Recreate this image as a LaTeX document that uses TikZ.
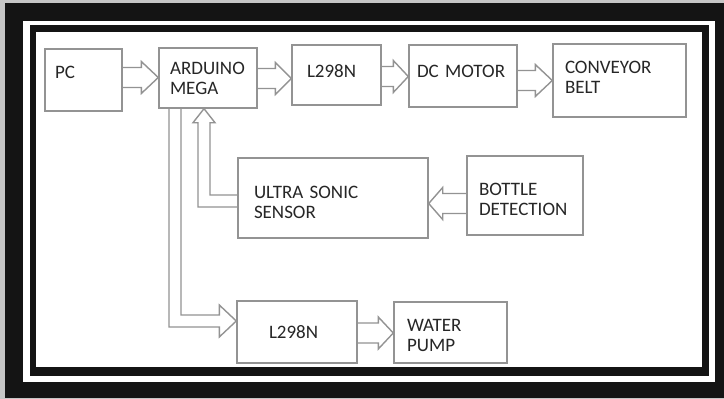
\documentclass[tikz,border=0pt]{standalone}
\usepackage{fontspec}
\setmainfont{Carlito}
\usetikzlibrary{calc}

\begin{document}
\begin{tikzpicture}[
        x=1pt, y=-1pt,
        font=\fontsize{19pt}{20pt}\selectfont,
        box/.style={
            draw=gray!85,
            line width=1.4pt,
            align=left,
            text=black!85,
            inner ysep=0pt
        },
        flow/.style={
            draw=gray!85,
            line width=1.4pt,
            line join=miter
        }
    ]
    \useasboundingbox (0,0) rectangle (724,399);

    % --- FRAME ---
    \fill[gray!45] (0,0) rectangle (724,399);
    \fill[black!92] (5,3) rectangle (724,398);
    \fill[white] (23,21) rectangle (715,382);
    \fill[black!92] (30,25) rectangle (709,376);
    \fill[white] (36,32) rectangle (702,367);

    % --- TOP ROW ---
    \node[box, minimum height=62pt, text width=57pt, inner xsep=10pt, text depth=16pt] (pc) at (83.5,80) {PC};
    \node[box, minimum height=60pt, text width=76pt, inner xsep=11pt] (arduino) at (208,78) {ARDUINO\\MEGA};
    \node[box, minimum height=60pt, text width=59pt, inner xsep=15pt, text depth=8pt] (drva) at (336.5,75) {L298N};
    \node[box, minimum height=62pt, text width=92pt, inner xsep=8pt, text depth=10pt] (motor) at (463,76) {DC MOTOR};
    \node[box, minimum height=73pt, text width=109pt, inner xsep=12pt, text depth=26pt] (belt) at (619.5,80.5) {CONVEYOR\\BELT};

    % --- SENSOR ROW ---
    \node[box, minimum height=80pt, text width=158pt, inner xsep=16pt, text depth=12pt] (sensor) at (333,198) {ULTRA SONIC\\SENSOR};
    \node[box, minimum height=79pt, text width=92pt, inner xsep=12pt, text depth=13pt] (bottle) at (525,195.5) {BOTTLE\\DETECTION};

    % --- PUMP ROW ---
    \node[box, minimum height=62pt, text width=56pt, inner xsep=32pt] (drvb) at (297,332) {L298N};
    \node[box, minimum height=61pt, text width=87pt, inner xsep=13pt, text depth=15pt] (pump) at (450.5,332.5) {WATER\\PUMP};

    % --- ARROWS ---
    \draw[flow] (pc.east |- 0,67.5) -- ($(arduino.west |- 0,67.5)+(-17,0)$) -- ++(0,-6)
        -- (arduino.west |- 0,77.5) -- ($(arduino.west |- 0,93.5)+(-17,0)$) -- ++(0,-6) -- (pc.east |- 0,87.5);
    \draw[flow] (arduino.east |- 0,68.5) -- ($(drva.west |- 0,68.5)+(-16,0)$) -- ++(0,-6)
        -- (drva.west |- 0,78.5) -- ($(drva.west |- 0,94.5)+(-16,0)$) -- ++(0,-6) -- (arduino.east |- 0,88.5);
    \draw[flow] (drva.east |- 0,66.5) -- ($(motor.west |- 0,66.5)+(-15,0)$) -- ++(0,-6)
        -- (motor.west |- 0,76.5) -- ($(motor.west |- 0,92.5)+(-15,0)$) -- ++(0,-6) -- (drva.east |- 0,86.5);
    \draw[flow] (motor.east |- 0,70.5) -- ($(belt.west |- 0,70.5)+(-17,0)$) -- ++(0,-6)
        -- (belt.west |- 0,80.5) -- ($(belt.west |- 0,96.5)+(-17,0)$) -- ++(0,-6) -- (motor.east |- 0,90.5);
    \draw[flow] (drvb.east |- 0,323) -- ($(pump.west |- 0,323)+(-15,0)$) -- ++(0,-6)
        -- (pump.west |- 0,333) -- ($(pump.west |- 0,349)+(-15,0)$) -- ++(0,-6) -- (drvb.east |- 0,343);
    \draw[flow] (bottle.west |- 0,193.5) -- ($(sensor.east |- 0,193.5)+(14,0)$) -- ++(0,-6)
        -- (sensor.east |- 0,203.5) -- ($(sensor.east |- 0,219.5)+(14,0)$) -- ++(0,-6) -- (bottle.west |- 0,213.5);
    \draw[flow] (sensor.west |- 0,195) -| ($(arduino.south)+(2,14)$) -- ++(5,0)
        -- ($(arduino.south)+(-4,0)$) -- ++(-11,14) -- ++(5,0) |- (sensor.west |- 0,207);
    \draw[flow] ($(arduino.south)+(-27,0)$) |- ($(drvb.west)+(-17,-17)$) -- ++(0,-10)
        -- ($(drvb.west)+(0,-11)$) -- ($(drvb.west)+(-17,5)$) -- ++(0,-10) -| ($(arduino.south)+(-39,0)$);

\end{tikzpicture}
\end{document}
